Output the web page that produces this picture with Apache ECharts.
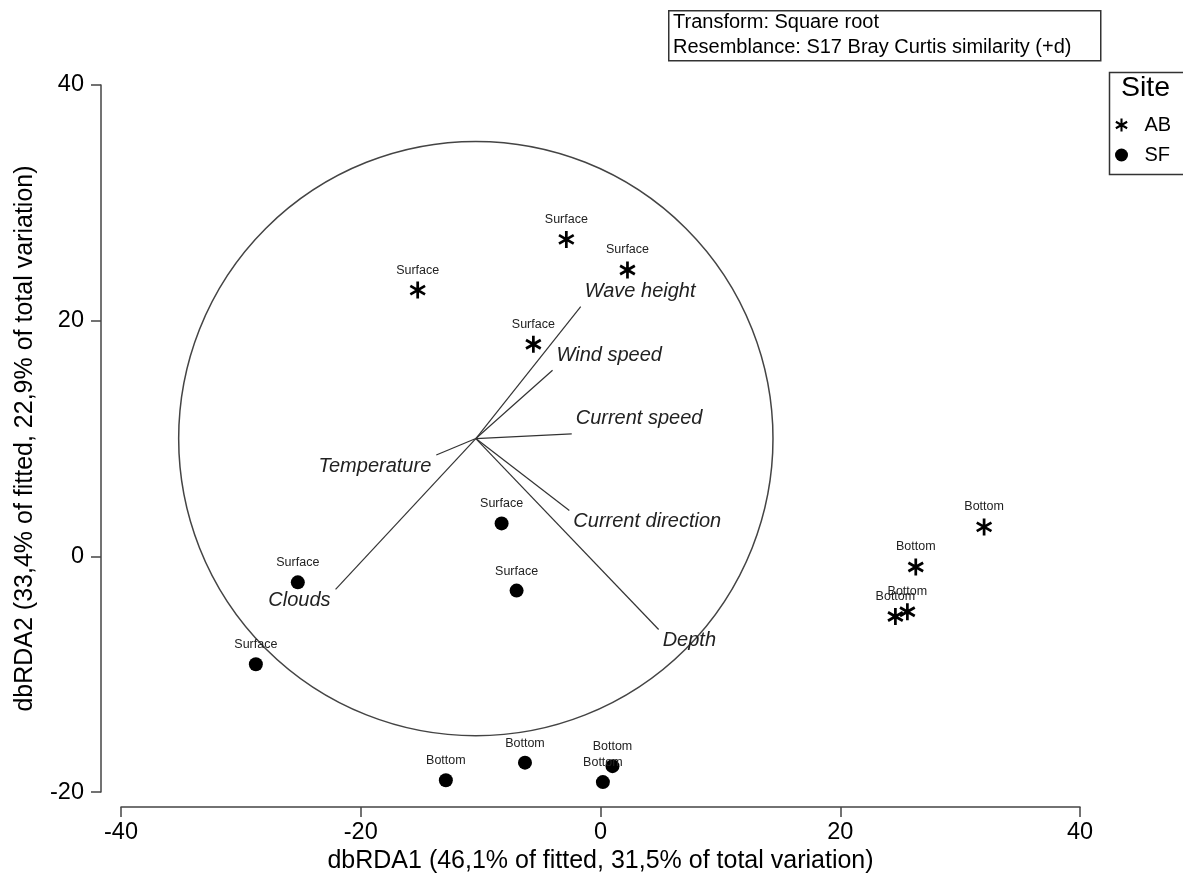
<!DOCTYPE html>
<html>
<head>
<meta charset="utf-8">
<script src="https://cdn.jsdelivr.net/npm/echarts@6/dist/echarts.min.js"></script>
<style>
  html, body { margin: 0; padding: 0; background: #fff; }
  #chart { width: 1183px; height: 879px; }
</style>
</head>
<body>
<div id="chart"></div>
<script>
// ---- Data ----
const abX = [-15.25, -2.85, 2.25, -5.6, 32.0, 26.3, 25.6, 24.6];
const abY = [22.6, 26.9, 24.3, 18.0, 2.5, -0.9, -4.7, -5.1];
const abDepth = ['Surface', 'Surface', 'Surface', 'Surface', 'Bottom', 'Bottom', 'Bottom', 'Bottom'];

const sfX = [-8.25, -7.0, -25.25, -28.75, -12.9, -6.3, 1.0, 0.2];
const sfY = [2.8, -2.9, -2.2, -9.15, -19.0, -17.5, -17.8, -19.15];
const sfDepth = ['Surface', 'Surface', 'Surface', 'Surface', 'Bottom', 'Bottom', 'Bottom', 'Bottom'];

const vectorNames = ['Wave height', 'Wind speed', 'Current speed', 'Temperature', 'Clouds', 'Current direction', 'Depth'];
const vectorX = [-1.65, -4.0, -2.4, -13.7, -22.1, -2.6, 4.85];
const vectorY = [21.2, 15.8, 10.4, 8.6, -2.8, 3.9, -6.2];
const vectorOrigin = [-10.4, 10.0];
const circleRadius = 25;

const xTitle = 'dbRDA1 (46,1% of fitted, 31,5% of total variation)';
const yTitle = 'dbRDA2 (33,4% of fitted, 22,9% of total variation)';
const infoLines = ['Transform: Square root', 'Resemblance: S17 Bray Curtis similarity (+d)'];
const legendTitle = 'Site';
const siteNames = ['AB', 'SF'];

const FONT = "'Liberation Sans', Arial, sans-serif";
const asterisk = 'path://M-0.16,-1L0.16,-1L0.16,1L-0.16,1Z' +
  'M0.786,-0.639L0.946,-0.361L-0.786,0.639L-0.946,0.361Z' +
  'M-0.946,-0.361L-0.786,-0.639L0.946,0.361L0.786,0.639Z';

const chart = echarts.init(document.getElementById('chart'), null, { renderer: 'canvas' });

const pointLabel = {
  show: true,
  position: 'top',
  distance: 5,
  formatter: p => p.value[2],
  fontSize: 12.5,
  fontFamily: FONT,
  color: '#222'
};

const option = {
  backgroundColor: '#fff',
  animation: false,
  textStyle: { fontFamily: FONT },
  grid: { left: 121, right: 103, top: 85, bottom: 86, containLabel: false },
  xAxis: {
    type: 'value', min: -40, max: 40, interval: 20, offset: 15,
    axisLine: { show: true, onZero: false, lineStyle: { color: '#444', width: 1.5 } },
    axisTick: { show: true, length: 10, lineStyle: { color: '#444', width: 1.5 } },
    axisLabel: { fontSize: 23.5, color: '#000', margin: 13, fontFamily: FONT },
    splitLine: { show: false },
    name: xTitle, nameLocation: 'middle', nameGap: 41,
    nameTextStyle: { fontSize: 25, color: '#000', fontFamily: FONT }
  },
  yAxis: {
    type: 'value', min: -20, max: 40, interval: 20, offset: 20,
    axisLine: { show: true, onZero: false, lineStyle: { color: '#444', width: 1.5 } },
    axisTick: { show: true, length: 10, lineStyle: { color: '#444', width: 1.5 } },
    axisLabel: { fontSize: 23.5, color: '#000', margin: 17, fontFamily: FONT },
    splitLine: { show: false },
    name: yTitle, nameLocation: 'middle', nameGap: 63, nameRotate: 90,
    nameTextStyle: { fontSize: 25, color: '#000', fontFamily: FONT }
  },
  legend: {
    orient: 'vertical', left: 1110, top: 110,
    itemWidth: 16, itemHeight: 13, itemGap: 10,
    data: siteNames,
    textStyle: { fontSize: 20, color: '#000', fontFamily: FONT, padding: [0, 0, 0, 10] },
    selectedMode: false
  },
  graphic: [
    { type: 'rect', left: 668, top: 10, shape: { width: 432, height: 50 },
      style: { fill: '#fff', stroke: '#333', lineWidth: 1.5 }, z: 10 },
    { type: 'text', left: 673, top: 12, z: 11,
      style: { text: infoLines[0], font: '20px ' + FONT, fill: '#000' } },
    { type: 'text', left: 673, top: 37, z: 11,
      style: { text: infoLines[1], font: '20px ' + FONT, fill: '#000' } },
    { type: 'rect', left: 1107, top: 70, shape: { width: 90, height: 102 },
      style: { fill: 'none', stroke: '#333', lineWidth: 1.5 }, z: 10 },
    { type: 'text', left: 1121, top: 74, z: 11,
      style: { text: legendTitle, font: '28.5px ' + FONT, fill: '#000' } }
  ],
  series: [
    {
      type: 'custom', name: 'circle', silent: true, clip: false, z: 1,
      data: [[vectorOrigin[0], vectorOrigin[1]]],
      renderItem: (params, api) => {
        const c = api.coord([api.value(0), api.value(1)]);
        const s = api.size([circleRadius, circleRadius]);
        return { type: 'circle', shape: { cx: c[0], cy: c[1], r: (s[0] + s[1]) / 2 },
          style: { fill: 'none', stroke: '#444', lineWidth: 1.5 } };
      }
    },
    {
      type: 'custom', name: 'vectors', silent: true, clip: false, z: 2,
      data: vectorNames.map((n, i) => [vectorX[i], vectorY[i], n]),
      renderItem: (params, api) => {
        const o = api.coord(vectorOrigin);
        const e = api.coord([api.value(0), api.value(1)]);
        const name = vectorNames[params.dataIndex];
        const right = api.value(0) >= vectorOrigin[0];
        const up = api.value(1) >= vectorOrigin[1];
        return {
          type: 'group',
          children: [
            { type: 'line', shape: { x1: o[0], y1: o[1], x2: e[0], y2: e[1] },
              style: { stroke: '#333', lineWidth: 1.2 } },
            { type: 'text',
              style: { text: name, x: e[0] + (right ? 4 : -5), y: e[1] + (up ? -15 : 11),
                align: right ? 'left' : 'right', verticalAlign: 'middle',
                font: 'italic 20px ' + FONT, fill: '#222' } }
          ]
        };
      }
    },
    {
      type: 'scatter', name: 'AB', z: 3,
      symbol: asterisk, symbolSize: 17, symbolKeepAspect: true,
      itemStyle: { color: '#000', opacity: 1 },
      label: pointLabel,
      data: abX.map((x, i) => [x, abY[i], abDepth[i]])
    },
    {
      type: 'scatter', name: 'SF', z: 3,
      symbol: 'circle', symbolSize: 14,
      itemStyle: { color: '#000', opacity: 1 },
      label: Object.assign({}, pointLabel, { distance: 6 }),
      data: sfX.map((x, i) => [x, sfY[i], sfDepth[i]])
    }
  ]
};
chart.setOption(option);
</script>
</body>
</html>
